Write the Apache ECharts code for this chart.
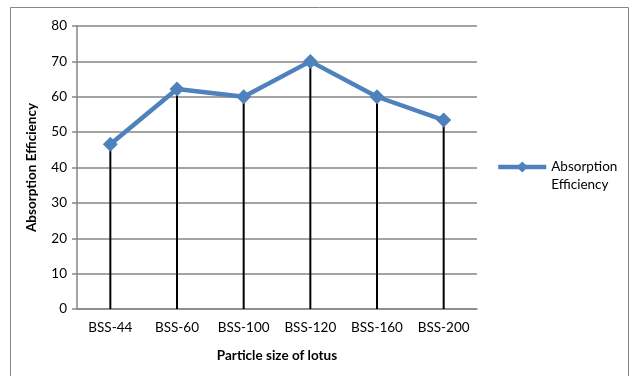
<!DOCTYPE html>
<html>
<head>
<meta charset="utf-8">
<script src="https://cdn.jsdelivr.net/npm/echarts@6/dist/echarts.min.js"></script>
<style>
  html, body { margin: 0; padding: 0; background: #fff; }
  #chart { width: 634px; height: 376px; }
</style>
</head>
<body>
<div id="chart"></div>
<script>
// Absorption efficiency by lotus particle size
const categories = ['BSS-44', 'BSS-60', 'BSS-100', 'BSS-120', 'BSS-160', 'BSS-200'];
const efficiency = [46.6, 62.2, 60, 70, 60, 53.4];
const yTicks = { min: 0, max: 80, interval: 10 };

const font = 'Lato, "Open Sans", sans-serif';
const chart = echarts.init(document.getElementById('chart'), null, { renderer: 'canvas' });

chart.setOption({
  animation: false,
  backgroundColor: '#fff',
  textStyle: { fontFamily: font },
  graphic: [{
    type: 'rect',
    shape: { x: 10.5, y: 7.5, width: 618, height: 380 },
    style: { fill: 'none', stroke: '#868686', lineWidth: 1 },
    silent: true
  }],
  grid: { left: 77, top: 26, width: 400, height: 283 },
  legend: {
    left: 496, top: 140,
    padding: 0,
    orient: 'vertical',
    itemWidth: 48, itemHeight: 14,
    data: [{ name: 'Absorption Efficiency' }],
    // blank first line keeps "Absorption" level with the legend line
    formatter: () => ' \nAbsorption\nEfficiency',
    lineStyle: { width: 4.5, color: '#4F81BD' },
    itemStyle: { color: '#4F81BD' },
    textStyle: { fontFamily: font, fontSize: 13.5, color: '#000', lineHeight: 18 },
    itemGap: 0
  },
  xAxis: {
    type: 'category',
    data: categories,
    boundaryGap: true,
    axisLine: { lineStyle: { color: '#868686', width: 1.5 } },
    axisTick: { show: false },
    axisLabel: { color: '#000', fontSize: 13.5, fontFamily: font, margin: 12, interval: 0 },
    name: 'Particle size of lotus',
    nameLocation: 'middle',
    nameGap: 40,
    nameTextStyle: { fontWeight: 'bold', fontSize: 13.5, color: '#000', fontFamily: font }
  },
  yAxis: {
    type: 'value',
    min: yTicks.min, max: yTicks.max, interval: yTicks.interval,
    axisLine: { show: true, lineStyle: { color: '#868686', width: 1.5 } },
    axisTick: { show: true, length: 5, lineStyle: { color: '#868686', width: 1.5 } },
    axisLabel: { color: '#000', fontSize: 13.5, fontFamily: font, margin: 10 },
    splitLine: { lineStyle: { color: '#868686', width: 1.5 } },
    name: 'Absorption Efficiency',
    nameLocation: 'middle',
    nameGap: 38,
    nameTextStyle: { fontWeight: 'bold', fontSize: 13.5, color: '#000', fontFamily: font }
  },
  series: [
    {
      // drop lines from each point down to the axis
      type: 'bar',
      name: 'drop',
      data: efficiency,
      barWidth: 2,
      itemStyle: { color: '#000' },
      silent: true,
      z: 1
    },
    {
      type: 'line',
      name: 'Absorption Efficiency',
      data: efficiency,
      symbol: 'diamond',
      symbolSize: 15,
      lineStyle: { color: '#4F81BD', width: 4.5 },
      itemStyle: { color: '#4F81BD' },
      barGap: '-100%',
      z: 3
    }
  ]
});
</script>
</body>
</html>
